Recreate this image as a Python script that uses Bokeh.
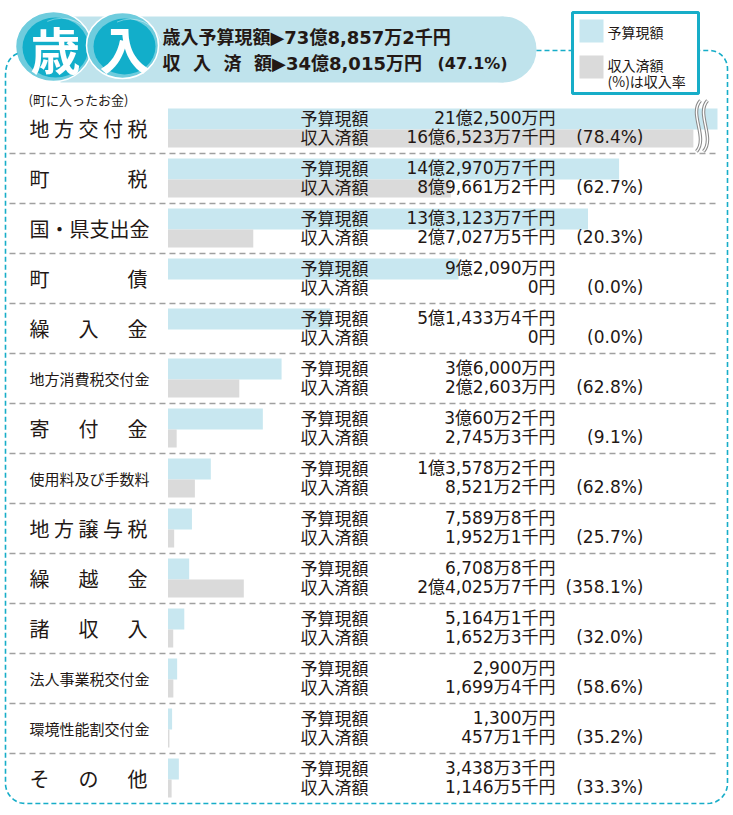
import numpy as np
from bokeh.plotting import figure
from bokeh.models import Range1d, ColumnDataSource
from bokeh.transform import dodge
from bokeh.core.properties import value
from bokeh.embed import file_html
from bokeh.resources import INLINE

# ---------------- data (amounts in 千円) ----------------
categories = ["地方交付税", "町税", "国・県支出金", "町債", "繰入金",
              "地方消費税交付金", "寄付金", "使用料及び手数料", "地方譲与税",
              "繰越金", "諸収入", "法人事業税交付金", "環境性能割交付金", "その他"]
budget = [2125000, 1429707, 1331237, 920900, 514334, 360000, 300602,
          135782, 75898, 67088, 51641, 29000, 13000, 34383]
received = [1665237, 896612, 270275, 0, 0, 226030, 27453,
            85212, 19521, 240257, 16523, 16994, 4571, 11465]
budget_name = "予算現額"
received_name = "収入済額"

CJK = "Noto Sans CJK JP"
MIX = "'DejaVu Sans', 'Noto Sans CJK JP'"
TXT = "#231815"
BLUE = "#C8E7F0"
GRAY = "#DADADA"
TEAL = "#17ADC8"


def fmt(v):
    if v == 0:
        return "0円"
    oku, rest = divmod(v, 100000)
    man, sen = divmod(rest, 10)
    s = ""
    if oku:
        s += f"{oku}億"
    if man:
        s += f"{man:,}万"
    if sen:
        s += f"{sen}千"
    return s + "円"


def disp(c):
    if len(c) == 5:
        return " ".join(c)
    if len(c) == 3:
        return " 　 ".join(c)
    if len(c) == 2:
        return c[0] + " 　 　 　 " + c[1]
    return c


src = ColumnDataSource(dict(
    row=list(range(len(categories))),
    budget=budget,
    received=received,
    blab=[fmt(v) for v in budget],
    rlab=[fmt(v) for v in received],
    pct=[f"({r / b * 100:.1f}%)" for r, b in zip(received, budget)],
    disp=[disp(c) for c in categories],
    fs=["15px" if len(c) >= 8 else "20px" for c in categories],
))

W, H = 730, 810
X0, K = 167.5, 31.55 / 100000.0   # bar origin (px) and px per 千円
ROW0, RH = 103.0, 50.0

p = figure(width=W, height=H, x_range=Range1d(0, W), y_range=Range1d(H, 0),
           output_backend="svg", toolbar_location=None, min_border=0,
           x_axis_location=None, y_axis_location=None)
p.grid.visible = False
p.outline_line_color = None
p.background_fill_color = "white"
p.extra_x_ranges = {"amt": Range1d(start=(0 - X0) / K, end=(W - X0) / K)}
p.extra_y_ranges = {"rows": Range1d(start=(H - ROW0) / RH, end=(0 - ROW0) / RH)}

# ---------------- header ----------------
p.quad(left=60, right=503, top=16, bottom=82, fill_color="#BFE3EC", line_color=None)
p.ellipse(x=503, y=49, width=66, height=66, fill_color="#BFE3EC", line_color=None)

for cx, cy, w, h, ch in [(53, 46, 76, 70, "歳"), (122, 45, 72, 66, "入")]:
    p.ellipse(x=cx, y=cy, width=w, height=h, fill_color="#6FCCDD", line_color="white", line_width=1.5)
    p.ellipse(x=cx + 2, y=cy + 1, width=w - 10, height=h - 10, fill_color="#12AECA", line_color=None)
    p.arc(x=cx + 8, y=cy + 6, radius=w * 0.45, start_angle=0.3, end_angle=2.0,
          line_color="white", line_alpha=0.5, line_width=0.8)
    p.text(x=cx + 2, y=cy + 1, text=value(ch), text_font=value(CJK), text_font_size="50px",
           text_font_style="bold", text_color="white", text_align="center", text_baseline="middle")

tb, tr = sum(budget), sum(received)
sp = "\u00a0\u00a0"
p.text(x=162, y=37, text=value("歳入予算現額▶" + fmt(tb)), text_font=value(MIX),
       text_font_size="18px", text_font_style="bold", text_color=TXT, text_baseline="middle")
p.text(x=162, y=63, text=value("収" + sp + "入" + sp + "済" + sp + "額▶" + fmt(tr)),
       text_font=value(MIX), text_font_size="18px", text_font_style="bold",
       text_color=TXT, text_baseline="middle")
p.text(x=437, y=63, text=value(f"({tr / tb * 100:.1f}%)"),
       text_font=value(MIX), text_font_size="16px", text_font_style="bold",
       text_color=TXT, text_baseline="middle")

# legend
p.quad(left=572, right=698, top=12, bottom=93, fill_color="white", line_color=TEAL, line_width=3)
p.quad(left=579, right=603, top=19, bottom=42, fill_color=BLUE, line_color=None)
p.quad(left=579, right=603, top=55, bottom=78, fill_color=GRAY, line_color=None)
for ty, t in [(31, budget_name), (64, received_name), (80, "(%)は収入率")]:
    p.text(x=607, y=ty, text=value(t), text_font=value(CJK), text_font_size="14px",
           text_color=TXT, text_baseline="middle")

p.text(x=28, y=99, text=value("(町に入ったお金)"), text_font=value(CJK),
       text_font_size="13px", text_color=TXT, text_baseline="middle")

# ---------------- bars ----------------
p.hbar(y=dodge("row", 0.31), left=0, right="budget", height=0.42, source=src,
       x_range_name="amt", y_range_name="rows", fill_color=BLUE, line_color=None)
p.hbar(y=dodge("row", 0.70), left=0, right="received", height=0.36, source=src,
       x_range_name="amt", y_range_name="rows", fill_color=GRAY, line_color=None)
# broken-bar mask at the right edge
p.quad(left=717, right=W, top=100, bottom=806, fill_color="white", line_color=None)

# ---------------- texts ----------------
common = dict(source=src, y_range_name="rows", text_color=TXT, text_baseline="middle")
p.text(x=29, y=dodge("row", 0.5), text="disp", text_font=value(CJK), text_font_size="fs", **common)
p.text(x=368, y=dodge("row", 0.28), text=value(budget_name), text_font=value(CJK),
       text_font_size="17px", text_align="right", **common)
p.text(x=368, y=dodge("row", 0.66), text=value(received_name), text_font=value(CJK),
       text_font_size="17px", text_align="right", **common)
p.text(x=555, y=dodge("row", 0.28), text="blab", text_font=value(MIX),
       text_font_size="17px", text_align="right", **common)
p.text(x=555, y=dodge("row", 0.66), text="rlab", text_font=value(MIX),
       text_font_size="17px", text_align="right", **common)
p.text(x=643, y=dodge("row", 0.66), text="pct", text_font=value(MIX),
       text_font_size="17px", text_align="right", **common)

# row separators
seps = list(range(1, len(categories)))
p.segment(x0=9, x1=718, y0=seps, y1=seps, y_range_name="rows",
          line_color="#A0A0A0", line_width=1.5, line_dash="6 4")

# break symbol on the first row
for dx in (0, 7):
    for lw, col in ((3.5, "#8C8C8C"), (1.4, "white")):
        p.bezier(x0=700 + dx, y0=100, x1=696 + dx, y1=151, cx0=688 + dx, cy0=113,
                 cx1=708 + dx, cy1=137, line_color=col, line_width=lw)

# ---------------- dashed frame ----------------
def arc(cx, cy, r, a0, a1, n=12):
    a = np.linspace(a0, a1, n)
    return list(cx + r * np.cos(a)), list(cy + r * np.sin(a))

xs, ys = [17], [53]
t = np.linspace(0, 1, 10)
xs += list((1 - t) ** 2 * 17 + 2 * (1 - t) * t * 5 + t ** 2 * 5)
ys += list((1 - t) ** 2 * 53 + 2 * (1 - t) * t * 58 + t ** 2 * 75)
ax, ay = arc(25, 783, 20, np.pi, np.pi / 2)
xs += [5] + ax; ys += [783] + ay
ax, ay = arc(707, 783, 20, np.pi / 2, 0)
xs += ax; ys += ay
ax, ay = arc(709, 68, 18, 0, -np.pi / 2)
xs += ax; ys += ay
xs += [698]; ys += [50]
p.line(xs, ys, line_color=TEAL, line_width=1.6, line_dash="5 3")
p.line([536, 572], [50, 50], line_color=TEAL, line_width=1.6, line_dash="5 3")

open("out.html", "w").write(file_html(p, INLINE))
